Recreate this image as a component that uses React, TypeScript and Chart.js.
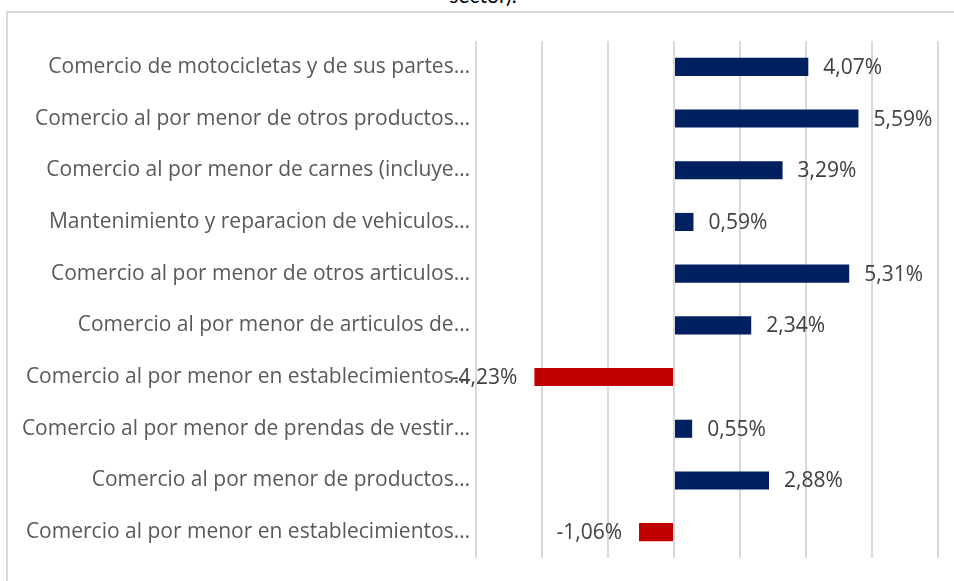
import React, { useEffect, useRef } from "react";
import { Chart, registerables } from "chart.js";

Chart.register(...registerables);

const categories: string[] = [
  "Comercio de motocicletas y de sus partes…",
  "Comercio al por menor de otros productos…",
  "Comercio al por menor de carnes (incluye…",
  "Mantenimiento y reparacion de vehiculos…",
  "Comercio al por menor de otros articulos…",
  "Comercio al por menor de articulos de…",
  "Comercio al por menor en establecimientos…",
  "Comercio al por menor de prendas de vestir…",
  "Comercio al por menor de productos…",
  "Comercio al por menor en establecimientos…",
];

const values: number[] = [4.07, 5.59, 3.29, 0.59, 5.31, 2.34, -4.23, 0.55, 2.88, -1.06];

const xMin = -6;
const xMax = 8;
const xStep = 2;

const POS_COLOR = "#002060";
const NEG_COLOR = "#C00000";
const FONT = "'Open Sans', Lato, sans-serif";
const TITLE_FONT = "Lato, sans-serif";

const fmt = (v: number) => v.toFixed(2).replace(".", ",") + "%";

const labelPlugin = {
  id: "barLabels",
  afterDatasetsDraw(chart: any) {
    const ctx = chart.ctx;
    const meta = chart.getDatasetMeta(0);
    ctx.save();
    ctx.font = `21px ${FONT}`;
    ctx.fillStyle = "#404040";
    ctx.textBaseline = "middle";
    meta.data.forEach((el: any, i: number) => {
      const v = values[i];
      if (v >= 0) {
        ctx.textAlign = "left";
        ctx.fillText(fmt(v), el.x + 15, el.y + 1);
      } else {
        ctx.textAlign = "right";
        ctx.fillText(fmt(v), el.x - 17, el.y + 1);
      }
    });
    ctx.restore();
  },
};

export default function App() {
  const ref = useRef<HTMLCanvasElement>(null);

  useEffect(() => {
    document.body.style.margin = "0";
    const chart = new Chart(ref.current!, {
      type: "bar",
      data: {
        labels: categories,
        datasets: [
          {
            data: values,
            backgroundColor: values.map((v) => (v >= 0 ? POS_COLOR : NEG_COLOR)),
            barPercentage: 0.35,
            categoryPercentage: 1,
          },
        ],
      },
      options: {
        indexAxis: "y",
        animation: false,
        responsive: false,
        maintainAspectRatio: false,
        layout: { padding: { left: 0, top: 41, right: 16, bottom: 23 } },
        plugins: {
          legend: { display: false },
          tooltip: { enabled: false },
          title: { display: false },
        },
        scales: {
          x: {
            min: xMin,
            max: xMax,
            ticks: { display: false, stepSize: xStep },
            grid: { color: "#d9d9d9", lineWidth: 2, drawTicks: false },
            border: { display: false },
            afterFit: (s: any) => {
              s.height = 0;
            },
          },
          y: {
            ticks: {
              color: "#595959",
              font: { family: FONT, size: 21 },
              padding: 6,
              autoSkip: false,
            },
            grid: { display: false, drawTicks: false },
            border: { display: false },
            afterFit: (s: any) => {
              s.width = 476;
            },
          },
        },
      },
      plugins: [labelPlugin],
    } as any);
    return () => chart.destroy();
  }, []);

  return (
    <div
      style={{
        position: "relative",
        width: 954,
        height: 581,
        overflow: "hidden",
        background: "#fff",
      }}
    >
      <div
        style={{
          position: "absolute",
          left: 6,
          top: 11,
          width: 960,
          height: 600,
          borderLeft: "2px solid #d9d9d9",
          borderTop: "2px solid #d9d9d9",
          boxSizing: "border-box",
        }}
      />
      <div
        style={{
          position: "absolute",
          left: 0,
          width: 966,
          top: -17,
          textAlign: "center",
          fontFamily: TITLE_FONT,
          fontSize: 21,
          color: "#000",
          lineHeight: "24px",
        }}
      >
        sector).
      </div>
      <canvas
        ref={ref}
        width={954}
        height={581}
        style={{ position: "absolute", left: 0, top: 0 }}
      />
    </div>
  );
}
